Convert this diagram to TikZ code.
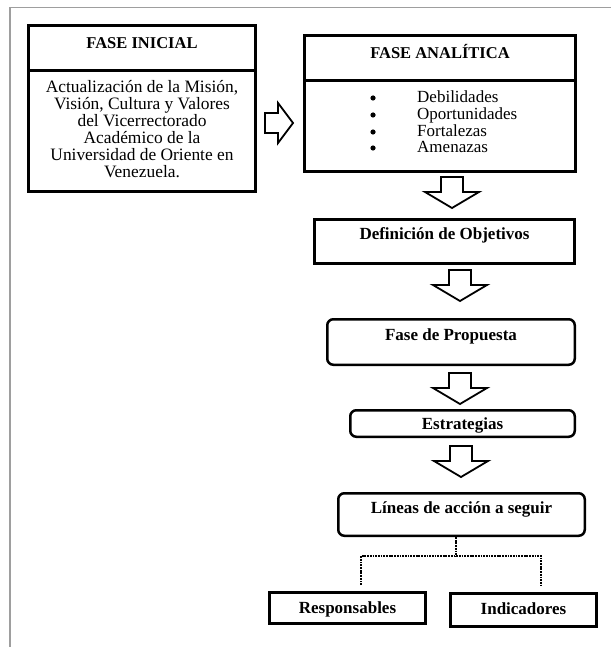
\documentclass[tikz,border=0pt]{standalone}
\usepackage{fontspec}
\setmainfont{Liberation Serif}
\begin{document}
\begin{tikzpicture}[x=1pt,y=-1pt,
  box/.style={draw,line width=3pt,inner sep=0pt},
  rbox/.style={draw,line width=2.5pt,rounded corners=6pt,inner sep=0pt},
  blk/.style={draw,line width=1.8pt,fill=white,line join=miter},
  lbl/.style={font=\fontsize{17}{17}\selectfont\bfseries,inner sep=0pt},
  ttl/.style={font=\fontsize{16.5}{17}\selectfont\bfseries,inner sep=0pt},
  txt/.style={font=\fontsize{17}{17}\selectfont,inner sep=0pt},
  btxt/.style={font=\fontsize{17.4}{17}\selectfont,inner sep=0pt},
  dotl/.style={line width=2.8pt,dash pattern=on 1.8pt off 0.9pt},
  frame/.style={draw=black!38,line width=1.6pt},
  downarr/.pic={\draw[blk] (-11,0) -- (11,0) -- (11,15) -- (27,15) -- (0,31) -- (-27,15) -- (-11,15) -- cycle;}
]
\useasboundingbox (0,0) rectangle (611,647);
% frame
\coordinate (fa) at (10,647);
\coordinate (fb) at (10,7.5);
\coordinate (fc) at (611,7.5);
\draw[frame] (fa) -- (fb) -- (fc);

% FASE INICIAL
\node[box,minimum width=227pt,minimum height=166pt] (inicial) at (142,108.5) {};
\coordinate (d1) at (0,71);
\draw[line width=3pt] (inicial.west |- d1) -- (inicial.east |- d1);
\node[ttl] (tinicial) at (142,43) {FASE INICIAL};
\node[btxt,align=center] (binicial) at (142,129.5) {Actualización de la Misión,\\Visión, Cultura y Valores\\del Vicerrectorado\\Académico de la\\Universidad de Oriente en\\Venezuela.};

% right arrow
\draw[blk] (265,113) -- (278,113) -- (278,103) -- (293,123) -- (278,143) -- (278,133) -- (265,133) -- cycle;

% FASE ANALITICA
\node[box,minimum width=271pt,minimum height=136pt] (analitica) at (440,103.5) {};
\coordinate (d2) at (0,81);
\draw[line width=3pt] (analitica.west |- d2) -- (analitica.east |- d2);
\node[ttl] (tanalitica) at (440,52) {FASE ANALÍTICA};
\foreach \t/\y [count=\i] in {Debilidades/103,Oportunidades/120,Fortalezas/137,Amenazas/153}{
  \fill (373,\y-5) circle (2.6pt);
  \node[txt,anchor=base west] (item\i) at (417,\y) {\t};
}

\pic at (452,177) {downarr};

% Definicion
\node[box,minimum width=260pt,minimum height=44pt] (def) at (444.5,241.5) {};
\node[lbl] (tdef) at (444.5,235) {Definición de Objetivos};

\pic at (460,270) {downarr};

% Fase de Propuesta
\node[rbox,minimum width=247.5pt,minimum height=45.5pt] (prop) at (451,342) {};
\node[lbl] (tprop) at (451,336) {Fase de Propuesta};

\pic at (460,373) {downarr};

% Estrategias
\node[rbox,minimum width=224.5pt,minimum height=26.5pt] (estr) at (462.5,423.5) {};
\node[lbl] (testr) at (462.5,425) {Estrategias};

\pic at (461,446) {downarr};

% Lineas
\node[rbox,minimum width=246.5pt,minimum height=42.5pt] (lineas) at (461.5,514.5) {};
\node[lbl] (tlineas) at (461.5,509) {Líneas de acción a seguir};

% dotted connectors
\coordinate (j) at (456,556);
\coordinate (jl) at (361,556);
\coordinate (jr) at (541,556);
\coordinate (el) at (361,585);
\coordinate (er) at (541,585);
\draw[dotl] (lineas.south -| j) -- (j);
\draw[dotl] (el) -- (jl) -- (jr) -- (er);

% Responsables / Indicadores
\node[box,minimum width=156pt,minimum height=31pt] (resp) at (347.5,608) {};
\node[lbl] (tresp) at (347.5,609) {Responsables};
\node[box,minimum width=146pt,minimum height=33pt] (indic) at (523.5,610) {};
\node[lbl] (tindic) at (523.5,609) {Indicadores};
\end{tikzpicture}
\end{document}
